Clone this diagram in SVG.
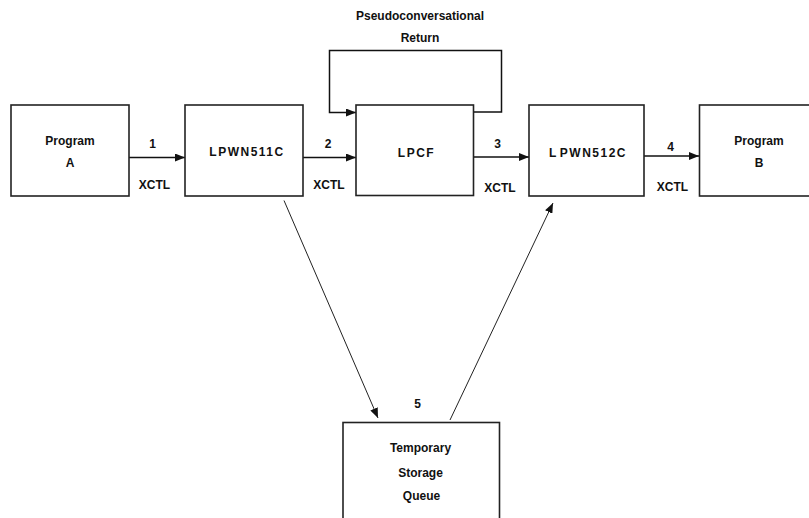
<svg xmlns="http://www.w3.org/2000/svg" width="809" height="518" viewBox="0 0 809 518">
<defs>
<marker id="ah" viewBox="0 0 10 8" refX="10" refY="4" markerWidth="10" markerHeight="8" markerUnits="userSpaceOnUse" orient="auto">
<path d="M0,0 L10,4 L0,8 Z" fill="#111"/>
</marker>
</defs>
<style>
.box{fill:#fff;stroke:#222;stroke-width:1.6}
.t{font-family:"Liberation Sans",Arial,sans-serif;font-weight:bold;font-size:12px;fill:#111;text-anchor:middle}
.sp{letter-spacing:1.5px}
.c{fill:none;stroke:#111;stroke-width:1.5}
.d{fill:none;stroke:#222;stroke-width:1}
</style>
<rect width="809" height="518" fill="#fff"/>
<g id="connectors">
<line class="c" x1="129" y1="157.5" x2="185" y2="157.5" marker-end="url(#ah)"/>
<line class="c" x1="303" y1="157.5" x2="356" y2="157.5" marker-end="url(#ah)"/>
<line class="c" x1="473" y1="157" x2="529" y2="157" marker-end="url(#ah)"/>
<line class="c" x1="644" y1="156" x2="699" y2="156" marker-end="url(#ah)"/>
<polyline class="c" points="473,112 501.5,112 501.5,50.5 329.5,50.5 329.5,112.5 356,112.5" marker-end="url(#ah)"/>
<line class="d" x1="284" y1="200.5" x2="378" y2="418" marker-end="url(#ah)"/>
<line class="d" x1="450" y1="420" x2="553" y2="203" marker-end="url(#ah)"/>
<text class="t" x="152.5" y="148">1</text>
<text class="t" x="154.5" y="189">XCTL</text>
<text class="t" x="328" y="148">2</text>
<text class="t" x="329" y="189">XCTL</text>
<text class="t" x="497.5" y="148">3</text>
<text class="t" x="500" y="192">XCTL</text>
<text class="t" x="670.5" y="151">4</text>
<text class="t" x="672.5" y="191">XCTL</text>
<text class="t" x="420" y="19.5">Pseudoconversational</text>
<text class="t" x="420" y="41.5">Return</text>
<text class="t" x="417.5" y="407.5">5</text>
</g>
<g id="programA">
<rect class="box" x="11" y="105" width="118" height="91"/>
<text class="t" x="70" y="144.5">Program</text>
<text class="t" x="70" y="167">A</text>
</g>
<g id="lpwn511c">
<rect class="box" x="185" y="105" width="118" height="91"/>
<text class="t sp" x="247" y="156">LPWN511C</text>
</g>
<g id="lpcf">
<rect class="box" x="356" y="105" width="117.5" height="90.5"/>
<text class="t sp" x="416.5" y="156.5">LPCF</text>
</g>
<g id="lpwn512c">
<rect class="box" x="529" y="105" width="115" height="91"/>
<text class="t sp" x="588" y="156.5">L<tspan dx="2">PWN512C</tspan></text>
</g>
<g id="programB">
<rect class="box" x="699.5" y="105" width="120" height="91"/>
<text class="t" x="759" y="144.5">Program</text>
<text class="t" x="759" y="167">B</text>
</g>
<g id="tsq">
<rect class="box" x="343" y="422.5" width="156.5" height="110"/>
<text class="t" x="420.5" y="451.5">Temporary</text>
<text class="t" x="420.5" y="476.5">Storage</text>
<text class="t" x="421.5" y="499.5">Queue</text>
</g>
</svg>
